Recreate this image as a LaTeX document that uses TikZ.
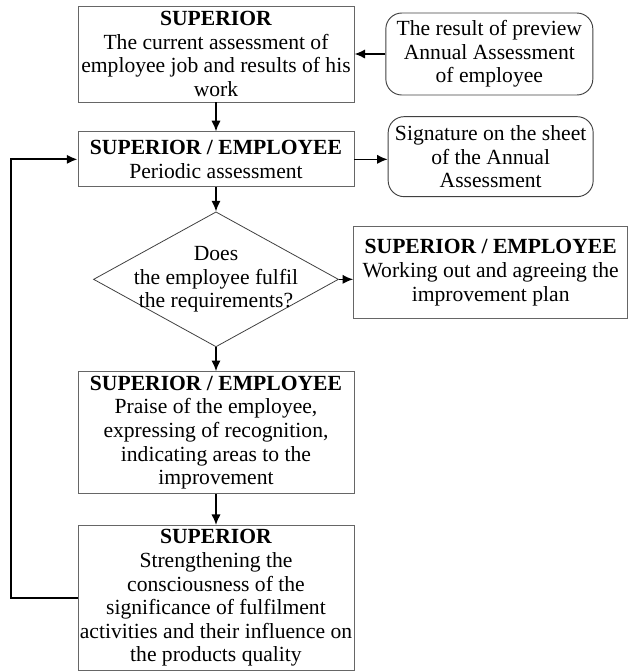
\documentclass[tikz,border=0pt]{standalone}
\usepackage{fontspec}
\setmainfont{Liberation Serif}
\usetikzlibrary{positioning, arrows.meta, shapes.geometric}

\begin{document}
\begin{tikzpicture}[node distance=79pt, font=\fontsize{16.2}{17.7}\selectfont]
            % Define node styles
            \tikzstyle{main} = [rectangle, draw=black!60, line width=0.7pt, minimum width=207pt, align=center, inner sep=1pt]
            \tikzstyle{doc} = [rectangle, rounded corners=12pt, draw=black!75, line width=0.7pt, align=center, inner sep=1pt]
            \tikzstyle{decision} = [diamond, draw=black!75, line width=0.6pt, minimum width=183.75pt, minimum height=101.25pt, inner sep=0pt]
            \tikzstyle{arr} = [-{Latex[length=8pt,width=7pt]}, line width=1.2pt]
            
            \useasboundingbox (0,0) rectangle (471.75pt,-504pt);
            
            % Main column (superior / employee steps)
            \node[main, minimum height=72pt] (sup1) at (162pt,-40.5pt) {\textbf{SUPERIOR}\\The current assessment of\\employee job and results of his\\work};
            \node[main, minimum height=41.25pt] (per) [below of=sup1] {\textbf{SUPERIOR / EMPLOYEE}\\Periodic assessment};
            \node[decision, label={[align=center]center:Does\\the employee fulfil\\the requirements?}] (dec) [below of=per, yshift=-11pt] {};
            \node[main, minimum height=91.5pt] (praise) [below of=dec, yshift=-36pt] {\textbf{SUPERIOR / EMPLOYEE}\\Praise of the employee,\\expressing of recognition,\\indicating areas to the\\improvement};
            \node[main, minimum height=108.75pt] (streng) [below of=praise, yshift=-45pt] {\textbf{SUPERIOR}\\Strengthening the\\consciousness of the\\significance of fulfilment\\activities and their influence on\\the products quality};
            
            % Side boxes (right column)
            \node[doc, minimum width=155.25pt, minimum height=61.5pt] (prev) [right of=sup1, xshift=126pt] {The result of preview\\Annual Assessment\\of employee};
            \node[doc, minimum width=153.75pt, minimum height=60pt] (sig) [right of=per, xshift=127pt, yshift=2pt] {Signature on the sheet\\of the Annual\\Assessment};
            \node[main, minimum width=205.5pt, minimum height=69pt] (plan) [right of=dec, xshift=127pt, yshift=5pt] {\textbf{SUPERIOR / EMPLOYEE}\\Working out and agreeing the\\improvement plan};
            
            % Arrows down the main column
            \draw[arr] (sup1.south) -- (per.north);
            \draw[arr] (per.south) -- (dec.north);
            \draw[arr] (dec.south) -- (praise.north);
            \draw[arr] (praise.south) -- (streng.north);
            
            % Arrows to and from the side boxes
            \draw[arr] (prev.west) -- (prev.west -| sup1.east);
            \draw[arr] (per.east) -- (per.east -| sig.west);
            \draw[arr] (dec.east) -- (dec.east -| plan.west);
            
            % Feedback loop back to the periodic assessment
            \coordinate (back) at ([xshift=-50.25pt]streng.west);
            \draw[arr, line width=1.5pt] (streng.west) -- (back) |- (per.west);
            
        \end{tikzpicture}
\end{document}
